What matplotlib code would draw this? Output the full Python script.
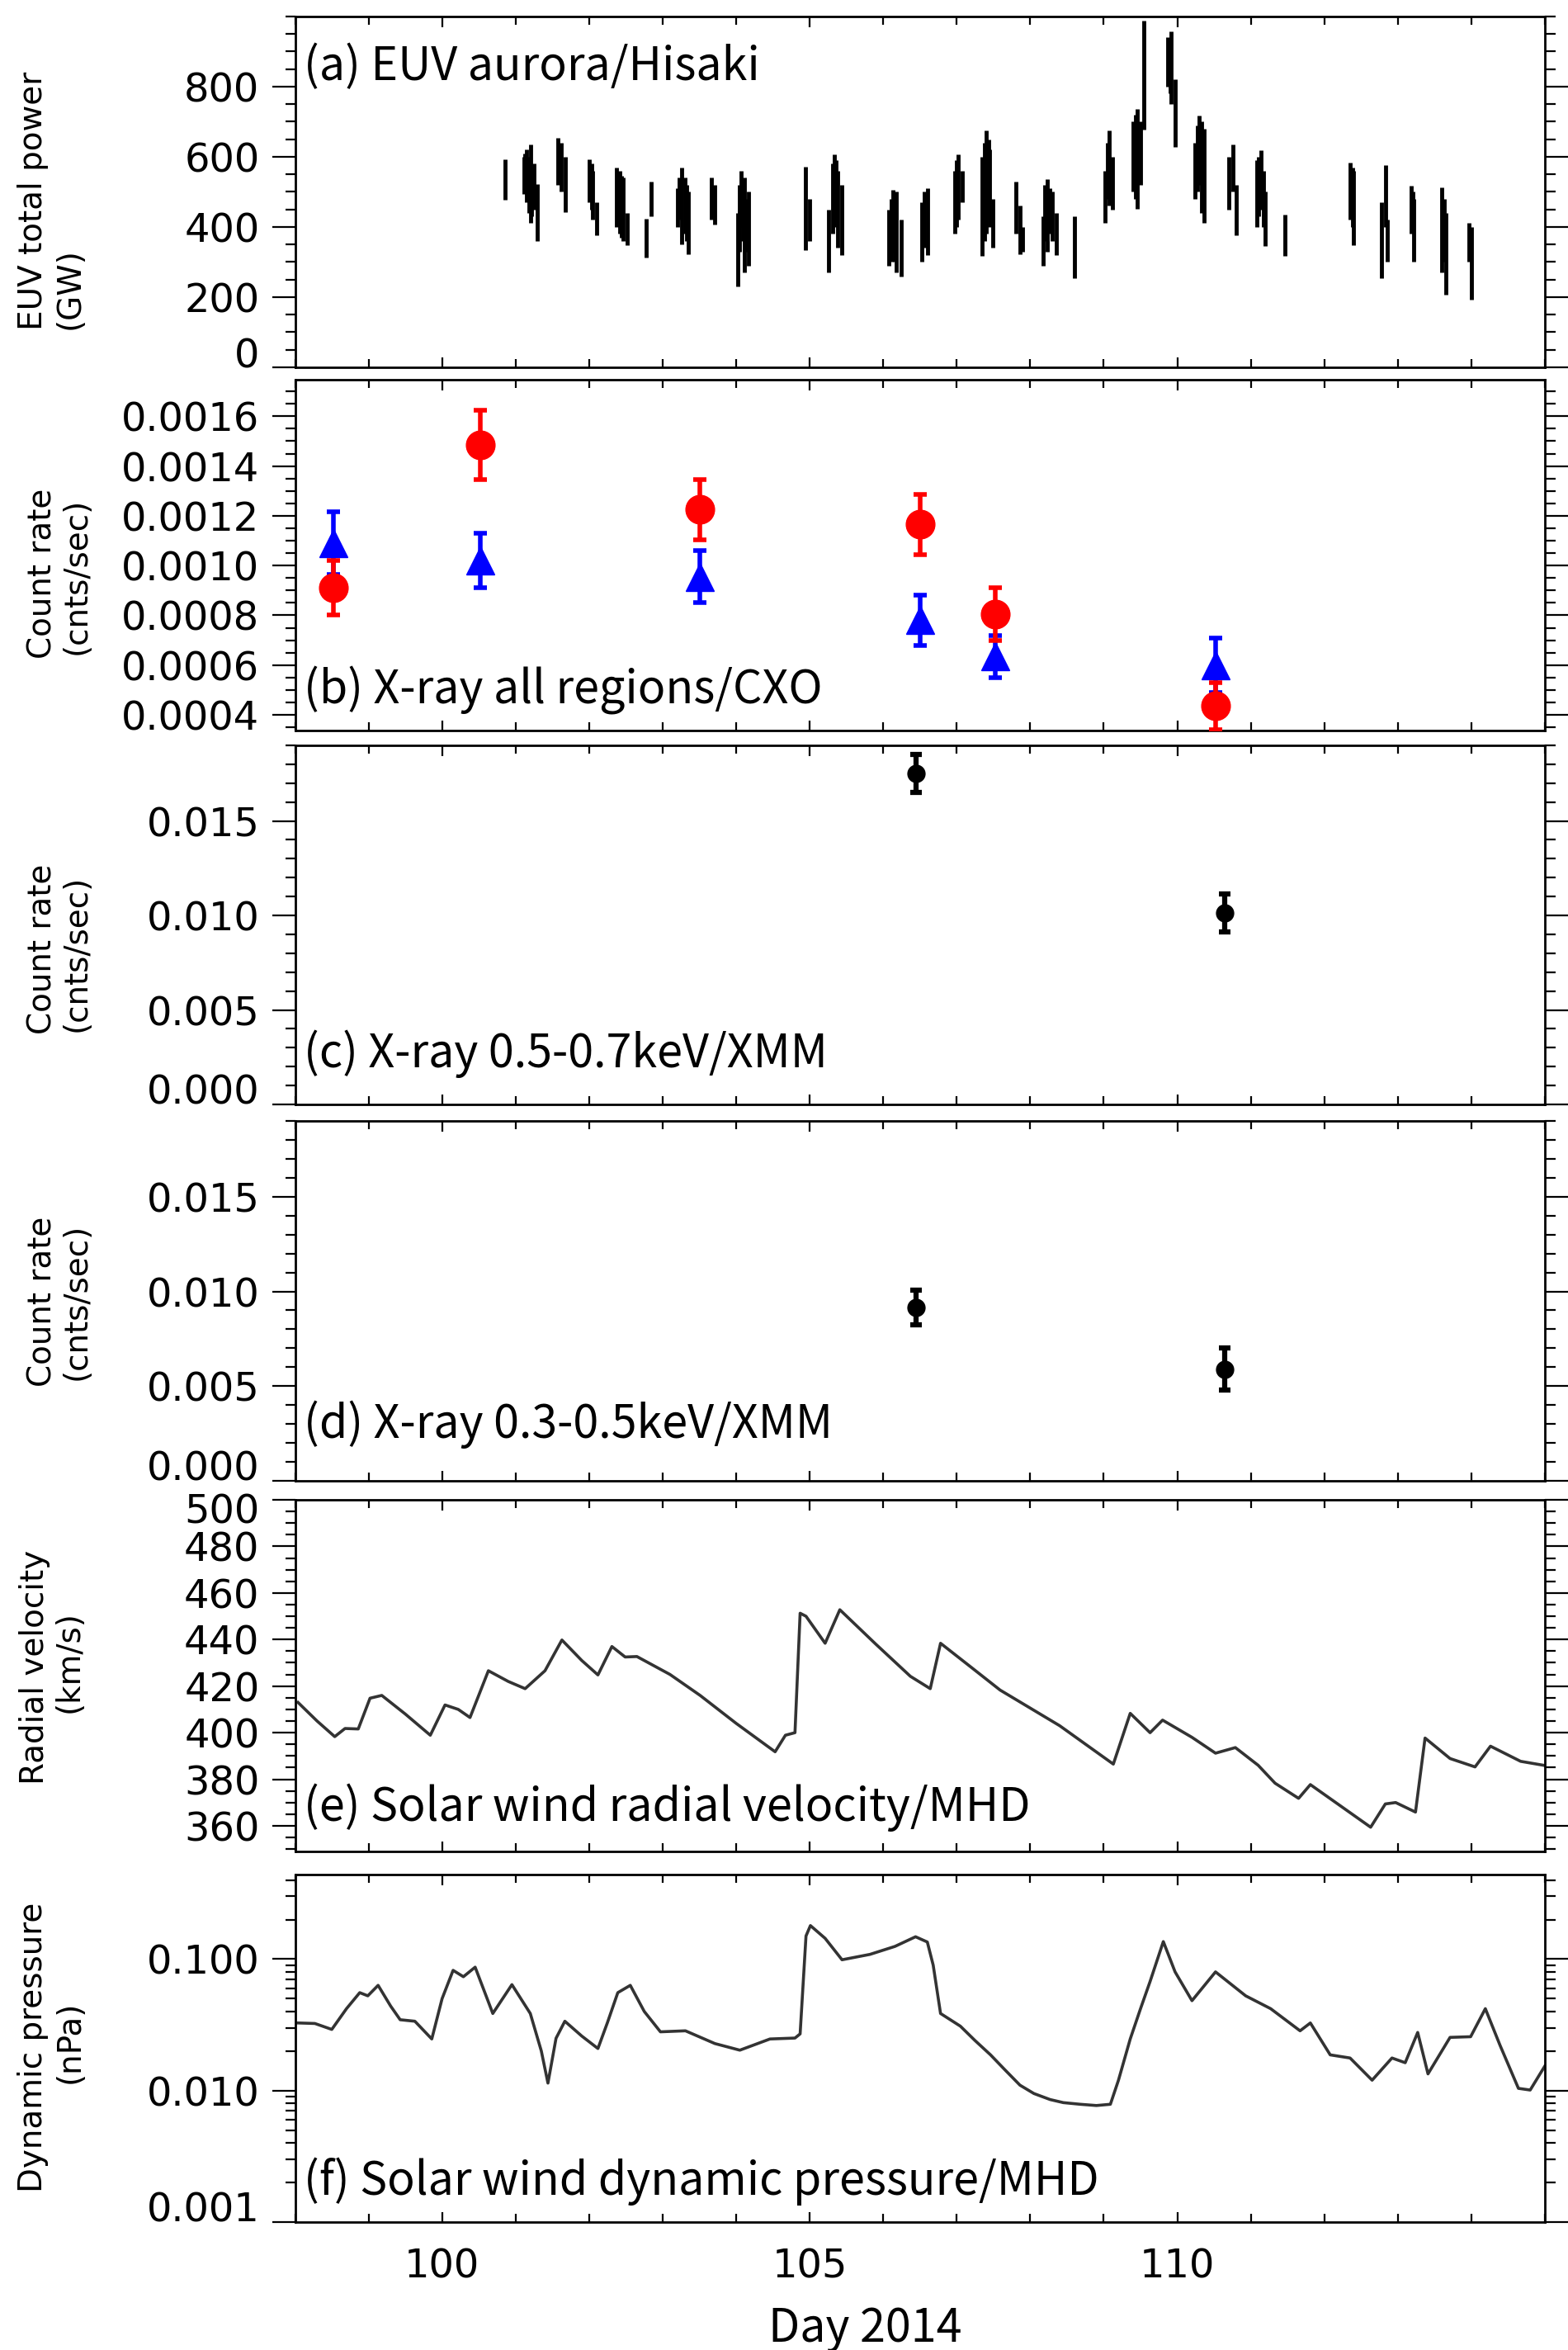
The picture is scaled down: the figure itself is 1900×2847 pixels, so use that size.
import matplotlib
matplotlib.use('Agg')
import matplotlib.pyplot as plt
import matplotlib.transforms as mtrans
from matplotlib.ticker import MultipleLocator, FixedLocator, NullFormatter, LogLocator, FixedFormatter

W, H, DPI = 1900, 2847, 100

# ---------------- data ----------------
# (a) EUV total power (GW): vertical spans
euv_t = [100.86,
         101.11, 101.13, 101.15, 101.18, 101.20, 101.22, 101.25, 101.29,
         101.58, 101.60, 101.62, 101.68,
         102.00, 102.03, 102.05, 102.10,
         102.37, 102.40, 102.42, 102.44, 102.46, 102.52,
         102.78, 102.84,
         103.20, 103.23, 103.26, 103.30, 103.33, 103.35,
         103.66, 103.71,
         104.02, 104.05, 104.07, 104.09, 104.11, 104.14, 104.17,
         104.94, 105.00,
         105.26, 105.31, 105.33, 105.36, 105.38, 105.44,
         106.08, 106.11, 106.13, 106.16, 106.18, 106.24,
         106.52, 106.56, 106.60,
         106.97, 107.00, 107.02, 107.07,
         107.34, 107.38, 107.40, 107.43, 107.45, 107.49,
         107.80, 107.86, 107.90,
         108.17, 108.20, 108.23, 108.26, 108.30, 108.35,
         108.60,
         109.02, 109.05, 109.07, 109.12,
         109.40, 109.43, 109.45, 109.50,
         109.55,
         109.87, 109.90, 109.92, 109.97,
         110.24, 110.27, 110.30, 110.33, 110.36,
         110.70, 110.76, 110.80,
         111.08, 111.11, 111.14, 111.17, 111.20,
         111.46,
         112.35, 112.38, 112.40,
         112.78, 112.83, 112.86,
         113.18, 113.20, 113.22,
         113.60, 113.63, 113.65,
         113.97, 114.00]
euv_lo = [478,
          494, 520, 470, 440, 412, 430, 450, 360,
          520, 540, 500, 443,
          470, 450, 420, 376,
          400, 420, 380, 370, 360, 348,
          313, 431,
          400, 420, 350, 380, 360, 322,
          420, 407,
          231, 330, 400, 360, 270, 330, 290,
          334, 360,
          271, 380, 400, 420, 340, 320,
          290, 300, 330, 300, 270, 259,
          300, 340, 320,
          380, 400, 420, 470,
          318, 360, 380, 420, 400, 340,
          380, 322, 330,
          289, 360, 330, 380, 360, 320,
          254,
          412, 480, 460, 450,
          500, 480, 451, 520,
          678,
          800, 780, 750, 628,
          480, 500, 520, 440, 412,
          450, 500, 377,
          400, 430, 450, 400, 346,
          318,
          420, 400, 349,
          255, 400, 300,
          380, 400, 302,
          270, 300, 208,
          300, 192]
euv_hi = [593,
          600, 610, 620, 600, 635, 560, 580, 522,
          654, 630, 640, 600,
          593, 580, 560, 470,
          569, 555, 560, 545, 540, 440,
          424, 529,
          510, 540, 569, 540, 520, 500,
          541, 520,
          440, 520, 560, 530, 540, 480, 500,
          572, 480,
          450, 580, 607, 590, 560, 520,
          450, 480, 506, 490, 500, 420,
          470, 500, 510,
          560, 590, 607, 560,
          600, 640, 675, 650, 620, 480,
          529, 460, 400,
          430, 520, 536, 510, 500, 440,
          431,
          560, 640, 675, 600,
          700, 720, 736, 700,
          988,
          940, 930, 958, 820,
          640, 690, 718, 700, 680,
          600, 635, 520,
          590, 600, 619, 560, 500,
          435,
          584, 570, 560,
          470, 576, 420,
          517, 500, 480,
          513, 480, 440,
          412, 400]

# (b) X-ray all regions / CXO
cxo_t = [98.52, 100.52, 103.51, 106.50, 107.52, 110.52]
cxo_red = [0.000910, 0.001485, 0.001225, 0.001165, 0.000805, 0.000435]
cxo_red_err = [0.000110, 0.000140, 0.000120, 0.000120, 0.000105, 0.000095]
cxo_blue = [0.001090, 0.001020, 0.000955, 0.000780, 0.000635, 0.000600]
cxo_blue_err = [0.000125, 0.000110, 0.000105, 0.000100, 0.000085, 0.000110]

# (c), (d) X-ray / XMM
xmm_t = [106.45, 110.65]
xmm_hi = [0.0175, 0.01015]
xmm_hi_err = [0.0010, 0.0010]
xmm_lo = [0.00915, 0.0059]
xmm_lo_err = [0.0009, 0.0011]

# (e) Solar wind radial velocity (km/s)
vel_t = [98.04, 98.30, 98.54, 98.68, 98.86, 99.02, 99.18, 99.50, 99.84, 100.04, 100.22, 100.38,
         100.63, 100.90, 101.13, 101.40, 101.63, 101.90, 102.12, 102.31, 102.49, 102.65, 103.10,
         103.51, 104.00, 104.53, 104.67, 104.80, 104.87, 104.95, 105.21, 105.41, 105.90, 106.37,
         106.64, 106.78, 107.20, 107.59, 108.40, 109.13, 109.36, 109.63, 109.80, 110.20, 110.52,
         110.79, 111.10, 111.33, 111.65, 111.81, 112.20, 112.63, 112.83, 112.97, 113.24, 113.37,
         113.71, 114.05, 114.26, 114.67, 115.00]
vel_v = [413, 405, 398.3, 401.8, 401.6, 414.8, 416, 408, 398.9, 411.9, 410, 406.5,
         426.6, 422, 418.9, 426.6, 439.8, 431, 424.8, 437, 432.5, 432.7, 425,
         416, 404, 391.8, 398.9, 400, 451.3, 450, 438.4, 452.8, 438, 424.2,
         418.9, 438.4, 428, 418.3, 403, 386.5, 408.3, 400, 405.4, 398, 391.2,
         393.6, 386, 378.3, 371.8, 377.7, 369, 359.4, 369.4, 370, 365.9, 397.7,
         388.9, 385.3, 394.2, 387.7, 385.9]

# (f) Solar wind dynamic pressure (nPa)
pdyn_t = [98.04, 98.27, 98.50, 98.70, 98.88, 98.99, 99.13, 99.30, 99.43, 99.63, 99.86, 100.00,
          100.15, 100.29, 100.45, 100.69, 100.95, 101.20, 101.35, 101.44, 101.55, 101.67, 101.90,
          102.12, 102.25, 102.39, 102.56, 102.75, 102.97, 103.31, 103.71, 104.05, 104.46, 104.80,
          104.87, 104.95, 105.01, 105.21, 105.44, 105.82, 106.16, 106.44, 106.60, 106.68, 106.78,
          107.05, 107.25, 107.46, 107.65, 107.86, 108.05, 108.27, 108.45, 108.68, 108.90, 109.09,
          109.20, 109.36, 109.50, 109.63, 109.81, 109.97, 110.20, 110.52, 110.93, 111.27, 111.67,
          111.81, 112.08, 112.35, 112.65, 112.92, 113.10, 113.27, 113.41, 113.71, 113.99, 114.19,
          114.39, 114.64, 114.80, 115.00]
pdyn_v = [0.0327, 0.0324, 0.0292, 0.0420, 0.0556, 0.0526, 0.0632, 0.0440, 0.0346, 0.0337,
          0.0247, 0.0500, 0.0822, 0.0735, 0.0869, 0.0386, 0.0640, 0.0386, 0.0200, 0.0114,
          0.0250, 0.0337, 0.0260, 0.0209, 0.0330, 0.0556, 0.0632, 0.0400, 0.0280, 0.0285,
          0.0228, 0.0203, 0.0247, 0.0251, 0.0270, 0.1500, 0.180, 0.144, 0.0989, 0.1087,
          0.125, 0.148, 0.135, 0.090, 0.0386, 0.0309, 0.0240, 0.0187, 0.0145, 0.0110, 0.0095,
          0.00855, 0.0081, 0.00787, 0.0077, 0.00787, 0.0120, 0.0247, 0.0420, 0.0676, 0.136,
          0.080, 0.0483, 0.080, 0.0526, 0.0420, 0.0285, 0.0327, 0.0187, 0.0177, 0.0120,
          0.0177, 0.0163, 0.0277, 0.0134, 0.0254, 0.0257, 0.0420, 0.0221, 0.0104, 0.0101, 0.0154]

panel_labels = ["(a) EUV aurora/Hisaki", "(b) X-ray all regions/CXO",
                "(c) X-ray 0.5-0.7keV/XMM", "(d) X-ray 0.3-0.5keV/XMM",
                "(e) Solar wind radial velocity/MHD", "(f) Solar wind dynamic pressure/MHD"]
xlabel = "Day 2014"

# ---------------- layout ----------------
fig = plt.figure(figsize=(W / DPI, H / DPI), dpi=DPI)
LEFT, RIGHT = 357.5, 1872
spans = [(20, 445), (460, 885), (903, 1338), (1358, 1794), (1817, 2243), (2271, 2692)]
axes = []
for top, bot in spans:
    axes.append(fig.add_axes([LEFT / W, 1 - bot / H, (RIGHT - LEFT) / W, (bot - top) / H]))

LABFONT = ['Noto Sans CJK JP', 'DejaVu Sans']
TSIZE = 34.5

for i, ax in enumerate(axes):
    ax.set_xlim(98, 115)
    ax.xaxis.set_major_locator(FixedLocator([100, 105, 110]))
    ax.xaxis.set_minor_locator(MultipleLocator(1))
    for s in ax.spines.values():
        s.set_linewidth(2.0)
    ax.tick_params(axis='x', which='both', direction='in', top=True, bottom=True,
                   width=1.6, labelbottom=(i == len(axes) - 1), labelsize=TSIZE, pad=22)
    ax.tick_params(axis='x', which='major', length=9)
    ax.tick_params(axis='x', which='minor', length=7)
    ax.tick_params(axis='y', which='both', direction='out', left=True, right=True,
                   width=1.6, labelsize=TSIZE, pad=11)
    ax.tick_params(axis='y', which='major', length=20)
    ax.tick_params(axis='y', which='minor', length=9)
    ax.text(0.007, [0.855, 0.113, 0.14, 0.156, 0.125, 0.116][i], panel_labels[i],
            transform=ax.transAxes, ha='left', va='center', fontsize=40, family=LABFONT)

# (a)
ax = axes[0]
ax.vlines(euv_t, euv_lo, euv_hi, colors='black', linewidth=3.5)
ax.set_ylim(0, 1000)
ax.set_yticks([0, 200, 400, 600, 800])
ax.set_yticklabels(['0', '200', '400', '600', '800'])
ax.yaxis.set_minor_locator(MultipleLocator(50))

# (b)
ax = axes[1]
ax.errorbar(cxo_t, cxo_blue, yerr=cxo_blue_err, fmt='^', color='#0000ff', ms=25,
            elinewidth=4, capsize=6, capthick=4, zorder=3)
ax.errorbar(cxo_t, cxo_red, yerr=cxo_red_err, fmt='o', color='#ff0000', ms=25,
            elinewidth=4, capsize=6, capthick=4, zorder=4)
ax.set_ylim(0.000337, 0.001747)
bt = [0.0004, 0.0006, 0.0008, 0.0010, 0.0012, 0.0014, 0.0016]
ax.set_yticks(bt)
ax.set_yticklabels(['%.4f' % v for v in bt])
ax.yaxis.set_minor_locator(MultipleLocator(0.00005))

# (c), (d)
for ax, vals, errs in [(axes[2], xmm_hi, xmm_hi_err), (axes[3], xmm_lo, xmm_lo_err)]:
    ax.errorbar(xmm_t, vals, yerr=errs, fmt='o', color='black', ms=15,
                elinewidth=4.5, capsize=5, capthick=4.5)
    ax.set_ylim(0, 0.019)
    ct = [0.0, 0.005, 0.010, 0.015]
    ax.set_yticks(ct)
    ax.set_yticklabels(['%.3f' % v for v in ct])
    ax.yaxis.set_minor_locator(MultipleLocator(0.001))

# (e)
ax = axes[4]
ax.plot(vel_t, vel_v, color='#333333', linewidth=2.6)
ax.set_ylim(349, 500)
et = list(range(360, 501, 20))
ax.set_yticks(et)
ax.set_yticklabels([str(v) for v in et])
ax.yaxis.set_minor_locator(MultipleLocator(5))

# (f)
ax = axes[5]
ax.plot(pdyn_t, pdyn_v, color='#333333', linewidth=2.6)
ax.set_yscale('log')
ax.set_ylim(0.001, 0.44)
ax.yaxis.set_major_locator(FixedLocator([0.001, 0.01, 0.1]))
ax.yaxis.set_major_formatter(FixedFormatter(['0.001', '0.010', '0.100']))
ax.yaxis.set_minor_locator(LogLocator(base=10, subs=[2, 3, 4, 5, 6, 7, 8, 9]))
ax.yaxis.set_minor_formatter(NullFormatter())
ax.set_xticklabels(['100', '105', '110'])

# edge tick labels shifted inside the axis range
for ax, txt, va in [(axes[0], '0', 'baseline'), (axes[2], '0.000', 'baseline'),
                    (axes[3], '0.000', 'baseline'), (axes[5], '0.001', 'baseline'),
                    (axes[4], '500', 'top')]:
    for lbl in ax.get_yticklabels():
        if lbl.get_text() == txt:
            lbl.set_va(va)
            if va == 'top':
                lbl.set_transform(lbl.get_transform() +
                                  mtrans.ScaledTranslation(0, 8 / DPI, fig.dpi_scale_trans))

for ax in axes:
    for lbl in ax.get_yticklabels() + ax.get_xticklabels():
        lbl.set_family('DejaVu Sans')

# y labels (two lines each, placed in pixels)
ylab = [("EUV total power", 40, 243), ("(GW)", 85, 350),
        ("Count rate", 52, 695), ("(cnts/sec)", 93, 698),
        ("Count rate", 52, 1150), ("(cnts/sec)", 93, 1155),
        ("Count rate", 52, 1577), ("(cnts/sec)", 93, 1577),
        ("Radial velocity", 42, 2020), ("(km/s)", 84, 2013),
        ("Dynamic pressure", 40, 2480), ("(nPa)", 85, 2474)]
for txt, x, y in ylab:
    fig.text(x / W, 1 - y / H, txt, rotation=90, ha='center', va='center',
             fontsize=28, family='DejaVu Sans')

fig.text(1048 / W, 1 - 2821 / H, xlabel, ha='center', va='center', fontsize=40,
         family=LABFONT)

fig.savefig('out.png', dpi=DPI)
